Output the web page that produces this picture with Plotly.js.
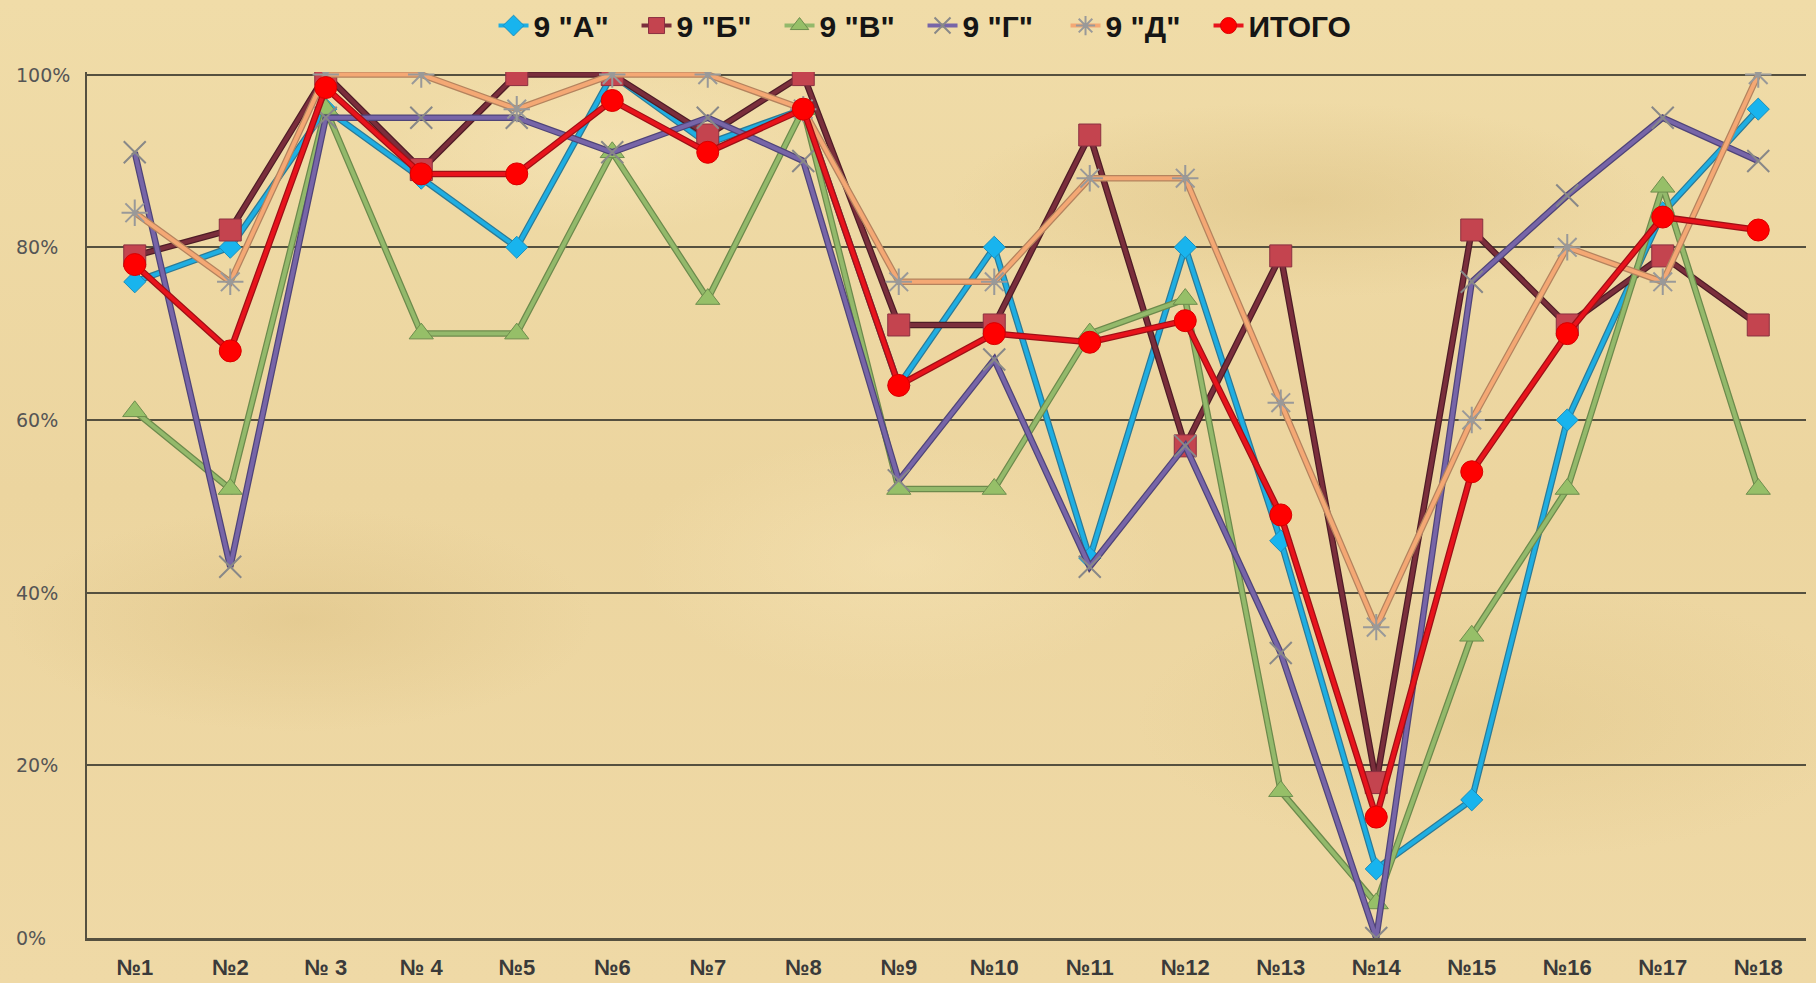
<!DOCTYPE html>
<html>
<head>
<meta charset="utf-8">
<script src="https://cdn.plot.ly/plotly-3.0.1.min.js"></script>
<style>
  html, body { margin:0; padding:0; }
  body {
    width:1816px; height:983px; overflow:hidden;
    background-color:#EED8A2;
    background-image:
      radial-gradient(ellipse 420px 160px at 300px 620px, rgba(214,184,120,0.35), rgba(214,184,120,0) 70%),
      radial-gradient(ellipse 500px 140px at 1300px 200px, rgba(210,180,115,0.35), rgba(210,180,115,0) 70%),
      radial-gradient(ellipse 380px 180px at 900px 560px, rgba(248,230,185,0.45), rgba(248,230,185,0) 70%),
      radial-gradient(ellipse 520px 200px at 1500px 720px, rgba(216,188,122,0.3), rgba(216,188,122,0) 70%),
      radial-gradient(ellipse 300px 120px at 600px 150px, rgba(250,234,192,0.45), rgba(250,234,192,0) 70%),
      linear-gradient(180deg, #F0DCA8 0%, #ECD59F 50%, #EFD9A6 100%);
  }
  #chart { width:1816px; height:983px; }
</style>
</head>
<body>
<div id="chart"></div>
<script>
// ---- data ----
const categories = ["№1","№2","№ 3","№ 4","№5","№6","№7","№8","№9","№10","№11","№12","№13","№14","№15","№16","№17","№18"];
const seriesNames = ['9 "А"','9 "Б"','9 "В"','9 "Г"','9 "Д"','ИТОГО'];
const class9A = [76, 80, 96, 88, 80, 100, 92, 96, 64, 80, 44, 80, 46, 8, 16, 60, 84, 96];
const class9B = [79, 82, 100, 89, 100, 100, 93, 100, 71, 71, 93, 57, 79, 18, 82, 71, 79, 71];
const class9V = [61, 52, 96, 70, 70, 91, 74, 96, 52, 52, 70, 74, 17, 4, 35, 52, 87, 52];
const class9G = [91, 43, 95, 95, 95, 91, 95, 90, 53, 67, 43, 57, 33, 0, 76, 86, 95, 90];
const class9D = [84, 76, 100, 100, 96, 100, 100, 96, 76, 76, 88, 88, 62, 36, 60, 80, 76, 100];
const total   = [78, 68, 98.5, 88.5, 88.5, 97, 91, 96, 64, 70, 69, 71.5, 49, 14, 54, 70, 83.5, 82];
const yTickVals = [0, 20, 40, 60, 80, 100];
const yTickText = ["0%", "20%", "40%", "60%", "80%", "100%"];

// ---- styles ----
const styles = [
  {line:'#1FAEE2', edge:'#2C7A96', symbol:'diamond', size:17, fill:'#18B4EE', mline:'#1C8EBB'},
  {line:'#7A2E3C', edge:'#4E1C26', symbol:'square', size:22, fill:'#C4444F', mline:'#8A3040'},
  {line:'#93B96B', edge:'#6C8A4C', symbol:'triangle-up', size:21, fill:'#96BF68', mline:'#6E8E4E'},
  {line:'#7765A8', edge:'#4F4478', symbol:'x-thin-open', size:22, fill:'#888', mline:'#80807A'},
  {line:'#F4A874', edge:'#B4835E', symbol:'asterisk-open', size:22, fill:'#999', mline:'#A39A88'},
  {line:'#E8131C', edge:'#9E1016', symbol:'circle', size:22, fill:'#FF0000', mline:'#D80000'}
];
const values = [class9A, class9B, class9V, class9G, class9D, total];

const traces = [];
values.forEach((vals, i) => {
  const s = styles[i];
  traces.push({
    type:'scatter', mode:'lines', x:categories, y:vals,
    line:{color:s.edge, width:6.5}, showlegend:false, hoverinfo:'skip'
  });
  traces.push({
    type:'scatter', mode:'lines+markers', name:seriesNames[i], x:categories, y:vals,
    line:{color:s.line, width:4},
    marker:{symbol:s.symbol, size:s.size, color:s.fill, line:{color:s.mline, width:(s.symbol.indexOf('open')>=0?2:1)}}
  });
});

const annotations = yTickVals.map((v, k) => ({
  xref:'paper', yref:'y', x:-0.0425, y:v, xanchor:'left', yanchor:'middle',
  text:yTickText[k], showarrow:false,
  font:{family:'DejaVu Sans, Verdana, sans-serif', size:19, color:'#555'}
}));

const layout = {
  width:1816, height:983,
  margin:{l:87, r:10, t:72, b:45},
  paper_bgcolor:'rgba(0,0,0,0)', plot_bgcolor:'rgba(0,0,0,0)',
  showlegend:true,
  legend:{orientation:'h', xref:'container', yref:'container', x:0.508, xanchor:'center', y:0.974, yanchor:'middle',
    font:{family:'Liberation Sans, Arial, sans-serif', size:30, color:'#151515', weight:'bold'},
    bgcolor:'rgba(0,0,0,0)', itemwidth:30, entrywidth:98, traceorder:'normal'},
  xaxis:{type:'category', categoryorder:'array', categoryarray:categories, range:[-0.5, 17.5],
    showgrid:false, showline:true, linecolor:'#55503F', linewidth:2.5, ticks:'', zeroline:false,
    tickfont:{family:'Liberation Sans, Arial, sans-serif', size:22, color:'#3a3a3a', weight:'bold'},
    ticklabelstandoff:8, fixedrange:true},
  yaxis:{range:[0, 100.3], tickvals:yTickVals, showticklabels:false, showgrid:true,
    gridcolor:'#55503F', gridwidth:2, showline:true, linecolor:'#55503F', linewidth:2.5,
    zeroline:false, ticks:'', fixedrange:true},
  annotations:annotations
};

Plotly.newPlot('chart', traces, layout, {displayModeBar:false, staticPlot:true});
</script>
</body>
</html>
